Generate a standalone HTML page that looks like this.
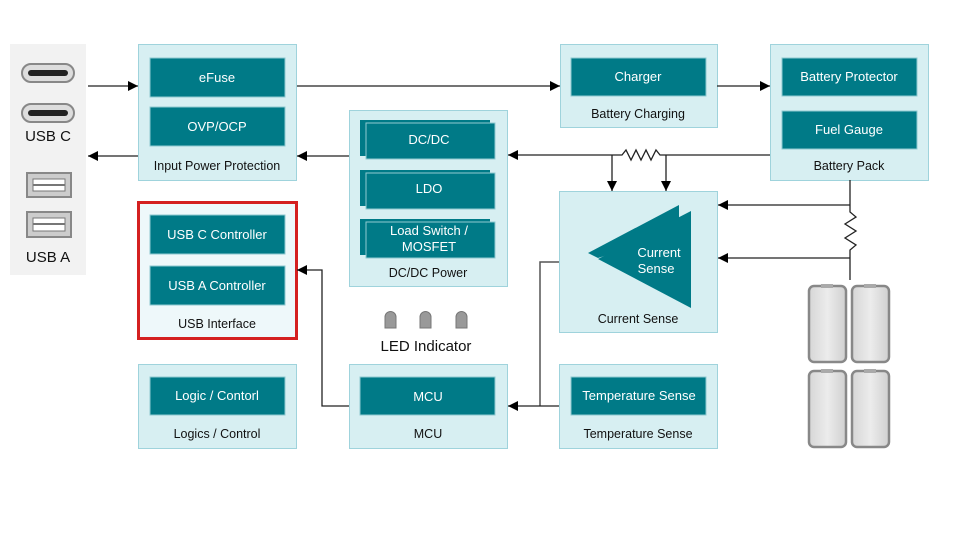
<!DOCTYPE html>
<html><head><meta charset="utf-8"><style>
html,body{margin:0;padding:0;background:#fff}
svg{display:block}
text{font-family:"Liberation Sans",Arial,sans-serif}
.w{fill:#fff;font-size:13px;text-anchor:middle}
.l{fill:#111;font-size:12.5px;text-anchor:middle}
.box{fill:#d7eff2;stroke:#9fd3dc;stroke-width:1}
.in{fill:#007a87;stroke:#8fc9d0;stroke-width:1}
.ln{stroke:#222;stroke-width:1.3;fill:none}
.gl{stroke:#555;stroke-width:1.5;fill:none}
</style></head><body>
<svg width="977" height="545" viewBox="0 0 977 545" xmlns="http://www.w3.org/2000/svg">
<defs>
<marker id="a" viewBox="0 0 10 10" refX="10" refY="5" markerWidth="14" markerHeight="10" markerUnits="userSpaceOnUse" orient="auto"><path d="M0,0L10,5L0,10z" fill="#000"/></marker>
<linearGradient id="bg" x1="0" x2="1"><stop offset="0" stop-color="#d6d6d6"/><stop offset=".5" stop-color="#ececec"/><stop offset="1" stop-color="#d0d0d0"/></linearGradient>
</defs>
<!-- left panel -->
<rect x="10" y="44" width="76" height="231" fill="#f2f2f2"/>
<g>
<rect x="22" y="64" width="52" height="18" rx="9" fill="#ddd" stroke="#888" stroke-width="2"/>
<rect x="28" y="70" width="40" height="6" rx="3" fill="#222"/>
<rect x="22" y="104" width="52" height="18" rx="9" fill="#ddd" stroke="#888" stroke-width="2"/>
<rect x="28" y="110" width="40" height="6" rx="3" fill="#222"/>
</g>
<text x="48" y="141" style="font-size:15px;fill:#111;text-anchor:middle">USB C</text>
<rect x="27" y="173" width="44" height="24" fill="#ccc" stroke="#888" stroke-width="2"/>
<rect x="33" y="179" width="32" height="12" fill="#fff" stroke="#777"/>
<line x1="33" y1="185" x2="65" y2="185" stroke="#777" stroke-width="2"/>
<rect x="27" y="212" width="44" height="25" fill="#ccc" stroke="#888" stroke-width="2"/>
<rect x="33" y="218" width="32" height="13" fill="#fff" stroke="#777"/>
<line x1="33" y1="224" x2="65" y2="224" stroke="#777" stroke-width="2"/>
<text x="48" y="262" style="font-size:15px;fill:#111;text-anchor:middle">USB A</text>

<!-- Input Power Protection -->
<rect class="box" x="138.5" y="44.5" width="158" height="136"/>
<rect class="in" x="150" y="58" width="135" height="39"/><text class="w" x="217" y="82">eFuse</text>
<rect class="in" x="150" y="107" width="135" height="39"/><text class="w" x="217" y="131">OVP/OCP</text>
<text class="l" x="217" y="170">Input Power Protection</text>

<!-- USB Interface -->
<rect x="138.5" y="202.5" width="158" height="136" fill="#eef8fa" stroke="#d42020" stroke-width="3"/>
<rect class="in" x="150" y="215" width="135" height="39"/><text class="w" x="217" y="239">USB C Controller</text>
<rect class="in" x="150" y="266" width="135" height="39"/><text class="w" x="217" y="290">USB A Controller</text>
<text class="l" x="217" y="328">USB Interface</text>

<!-- Logic -->
<rect class="box" x="138.5" y="364.5" width="158" height="84"/>
<rect class="in" x="150" y="377" width="135" height="38"/><text class="w" x="217" y="400">Logic / Contorl</text>
<text class="l" x="217" y="438">Logics / Control</text>

<!-- DC/DC Power -->
<rect class="box" x="349.5" y="110.5" width="158" height="176"/>
<g fill="#007a87">
<rect x="360" y="120" width="130" height="36"/><rect class="in" x="366" y="123" width="129" height="36"/>
<rect x="360" y="170" width="130" height="36"/><rect class="in" x="366" y="173" width="129" height="36"/>
<rect x="360" y="219" width="130" height="36"/><rect class="in" x="366" y="222" width="129" height="36"/>
</g>
<text class="w" x="429" y="144">DC/DC</text>
<text class="w" x="429" y="193">LDO</text>
<text class="w" x="429" y="235">Load Switch /</text>
<text class="w" x="429" y="251">MOSFET</text>
<text class="l" x="428" y="277">DC/DC Power</text>

<!-- LEDs -->
<g fill="#999" stroke="#777">
<path d="M385,328V317a5,5 0 0 1 11,0V328z"/>
<path d="M420,328V317a5,5 0 0 1 11,0V328z"/>
<path d="M456,328V317a5,5 0 0 1 11,0V328z"/>
</g>
<text x="426" y="351" style="font-size:15px;fill:#111;text-anchor:middle">LED Indicator</text>

<!-- MCU -->
<rect class="box" x="349.5" y="364.5" width="158" height="84"/>
<rect class="in" x="360" y="377" width="135" height="38"/><text class="w" x="428" y="401">MCU</text>
<text class="l" x="428" y="438">MCU</text>

<!-- Charger -->
<rect class="box" x="560.5" y="44.5" width="157" height="83"/>
<rect class="in" x="571" y="58" width="135" height="38"/><text class="w" x="638" y="81">Charger</text>
<text class="l" x="638" y="118">Battery Charging</text>

<!-- Battery Pack -->
<rect class="box" x="770.5" y="44.5" width="158" height="136"/>
<rect class="in" x="782" y="58" width="135" height="38"/><text class="w" x="849" y="81">Battery Protector</text>
<rect class="in" x="782" y="111" width="135" height="38"/><text class="w" x="849" y="134">Fuel Gauge</text>
<text class="l" x="849" y="170">Battery Pack</text>

<!-- Current Sense -->
<rect class="box" x="559.5" y="191.5" width="158" height="141"/>
<path d="M588,253L679,205V232L598,258z" fill="#007a87"/>
<path d="M598,259L691,211V308z" fill="#007a87"/>
<text x="659" y="257" style="font-size:13px;fill:#fff;text-anchor:middle">Current</text>
<text x="656" y="273" style="font-size:13px;fill:#fff;text-anchor:middle">Sense</text>
<text class="l" x="638" y="323">Current Sense</text>

<!-- Temperature Sense -->
<rect class="box" x="559.5" y="364.5" width="158" height="84"/>
<rect class="in" x="571" y="377" width="135" height="38"/><text class="w" x="639" y="400">Temperature Sense</text>
<text class="l" x="638" y="438">Temperature Sense</text>

<!-- batteries -->
<g stroke="#888" stroke-width="2.5" fill="url(#bg)">
<rect x="809" y="286" width="37" height="76" rx="5"/>
<rect x="852" y="286" width="37" height="76" rx="5"/>
<rect x="809" y="371" width="37" height="76" rx="5"/>
<rect x="852" y="371" width="37" height="76" rx="5"/>
</g>
<g fill="#aaa"><rect x="821" y="284" width="12" height="4"/><rect x="864" y="284" width="12" height="4"/><rect x="821" y="369" width="12" height="4"/><rect x="864" y="369" width="12" height="4"/></g>

<!-- connectors -->
<line class="ln" x1="88" y1="86" x2="138" y2="86" marker-end="url(#a)"/>
<line class="ln" x1="297" y1="86" x2="560" y2="86" marker-end="url(#a)"/>
<line class="ln" x1="717" y1="86" x2="770" y2="86" marker-end="url(#a)"/>
<line class="ln" x1="138" y1="156" x2="88" y2="156" marker-end="url(#a)"/>
<line class="ln" x1="349" y1="156" x2="297" y2="156" marker-end="url(#a)"/>
<path class="ln" d="M770,155H660L656,150L651,160L646,150L641,160L636,150L631,160L626,150L622,155H508" marker-end="url(#a)"/>
<path class="ln" d="M612,155V191" marker-end="url(#a)"/>
<path class="ln" d="M666,155V191" marker-end="url(#a)"/>
<path class="ln" d="M850,180V212L856,217L845,224L856,231L845,238L856,245L850,250V280"/>
<line class="ln" x1="850" y1="205" x2="718" y2="205" marker-end="url(#a)"/>
<line class="ln" x1="850" y1="258" x2="718" y2="258" marker-end="url(#a)"/>
<path class="gl" d="M559,262H540V406"/>
<line class="ln" x1="559" y1="406" x2="508" y2="406" marker-end="url(#a)"/>
<path class="ln" d="M349,406H322V270H297" marker-end="url(#a)"/>
</svg>
</body></html>
